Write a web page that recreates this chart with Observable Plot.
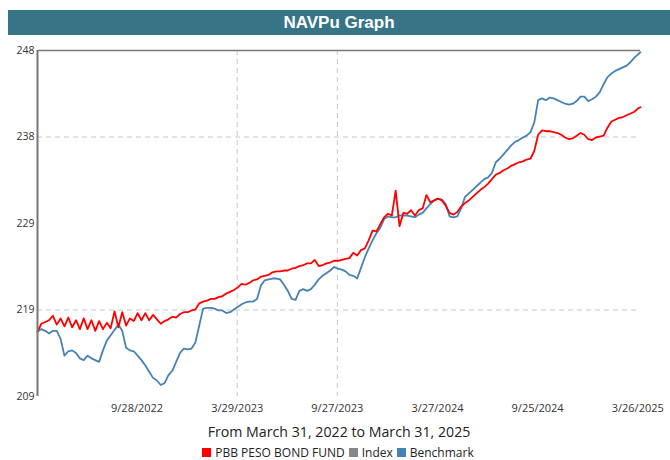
<!DOCTYPE html>
<html><head><meta charset="utf-8">
<script src="https://cdn.jsdelivr.net/npm/d3@7"></script>
<script src="https://cdn.jsdelivr.net/npm/@observablehq/plot@0.6"></script>
<style>
body{margin:0;background:#fff;width:670px;height:460px;position:relative;overflow:hidden;font-family:"Open Sans",sans-serif;}
#title{position:absolute;left:8px;top:10px;width:662px;height:25px;background:#367585;color:#fff;font:bold 17px "Liberation Sans",Arial,sans-serif;text-align:center;line-height:25px;}
#chart{position:absolute;left:0;top:40px;}
#caption{position:absolute;left:0;width:678px;top:422px;text-align:center;font-size:14.2px;color:#222;}
#legend{position:absolute;left:0;width:680px;top:444px;text-align:center;font-size:12px;color:#222;}
.sw{display:inline-block;width:9px;height:9px;margin:0 4px 0 0;vertical-align:0px;}
.item{margin-right:4px;}
</style></head>
<body>
<div id="title">NAVPu Graph</div>
<div id="chart"></div>
<div id="caption">From March 31, 2022 to March 31, 2025</div>
<div id="legend"></div>
<script>
const startDate = "2022-03-31";
const endDate = "2025-03-31";
const tickDates = ["2022-09-28","2023-03-29","2023-09-27","2024-03-27","2024-09-25","2025-03-26"];
const yTicks = [209, 218.75, 228.5, 238.25, 248];
const gridY = [218.75, 238.25];
const gridX = ["2023-03-29","2023-09-27"];
const seriesNames = ["PBB PESO BOND FUND","Index","Benchmark"];
const seriesColors = ["#ff0000","#888888","#4682b4"];

// weekly samples from 2022-03-31, last value on 2025-03-31
const fundValues = [
216.3, 217.2, 217.4, 217.6, 218.1, 217.1, 217.8, 216.9, 217.9, 216.8,
217.6, 216.6, 217.8, 216.6, 217.6, 216.4, 217.5, 216.6, 217.3, 216.7,
218.6, 216.8, 218.5, 217.0, 217.8, 217.5, 218.4, 217.6, 218.4, 217.6,
218.2, 217.7, 217.2, 217.5, 217.7, 218.0, 217.9, 218.3, 218.5, 218.5,
218.7, 218.8, 219.5, 219.7, 219.8, 220.0, 220.0, 220.2, 220.3, 220.6,
220.8, 221.0, 221.3, 221.7, 221.6, 221.8, 222.1, 222.2, 222.5, 222.6,
222.7, 223.0, 223.1, 223.1, 223.2, 223.2, 223.4, 223.5, 223.7, 223.8,
224.0, 224.0, 224.4, 223.7, 223.8, 224.0, 224.1, 224.3, 224.3, 224.4,
224.5, 224.6, 225.2, 224.9, 225.5, 225.7, 226.6, 227.7, 227.6, 228.4,
229.2, 229.6, 229.4, 232.2, 228.2, 229.7, 229.6, 230.0, 229.4, 230.0,
230.2, 231.7, 230.9, 231.1, 231.3, 231.1, 230.5, 229.7, 229.5, 229.8,
230.4, 230.8, 231.1, 231.5, 231.9, 232.3, 232.6, 233.0, 233.5, 234.0,
234.2, 234.5, 234.7, 235.0, 235.2, 235.4, 235.5, 235.7, 235.8, 236.7,
238.5, 239.0, 238.9, 238.9, 238.8, 238.7, 238.5, 238.2, 238.0, 238.1,
238.4, 238.7, 238.5, 238.0, 237.9, 238.2, 238.3, 238.4, 239.3, 240.0,
240.2, 240.4, 240.5, 240.7, 240.9, 241.1, 241.5, 241.6
];
const benchValues = [
216.3, 216.6, 216.4, 216.1, 216.4, 216.4, 215.5, 213.6, 214.1, 214.2,
213.9, 213.3, 213.1, 213.6, 213.3, 213.1, 212.9, 214.2, 215.3, 215.9,
216.5, 217.1, 216.4, 214.5, 214.2, 214.1, 213.6, 213.1, 212.5, 211.8,
211.1, 210.8, 210.3, 210.5, 211.4, 211.9, 212.9, 213.9, 214.4, 214.3,
214.4, 215.1, 217.0, 218.9, 219.0, 219.0, 218.9, 218.7, 218.7, 218.4,
218.5, 218.8, 219.1, 219.4, 219.6, 219.7, 219.7, 220.0, 221.5, 222.1,
222.2, 222.3, 222.3, 222.2, 221.6, 220.9, 220.0, 219.9, 220.9, 221.1,
220.9, 221.1, 221.6, 222.2, 222.6, 222.9, 223.2, 223.6, 223.4, 223.3,
223.1, 222.7, 222.6, 222.3, 223.5, 224.7, 225.7, 226.6, 227.4, 228.0,
229.0, 229.3, 229.2, 229.2, 229.4, 229.4, 229.4, 229.3, 229.2, 229.5,
229.7, 230.2, 230.7, 231.1, 231.3, 231.2, 230.7, 229.3, 229.2, 229.3,
230.2, 231.5, 231.9, 232.3, 232.7, 233.1, 233.5, 233.7, 234.2, 235.4,
235.8, 236.3, 236.8, 237.3, 237.7, 237.9, 238.2, 238.4, 238.8, 239.9,
242.4, 242.6, 242.4, 242.7, 242.6, 242.4, 242.2, 242.0, 241.9, 242.0,
242.3, 242.8, 242.8, 242.3, 242.5, 242.8, 243.3, 244.2, 245.0, 245.4,
245.7, 245.9, 246.1, 246.3, 246.7, 247.2, 247.6, 247.8
];

const parse = d3.utcParse("%Y-%m-%d");
const start = parse(startDate), end = parse(endDate);
const sampleDates = d3.range(fundValues.length - 1).map(i => d3.utcDay.offset(start, 7 * i)).concat([end]);
const fundRows = fundValues.map((v, i) => ({date: sampleDates[i], value: v}));
const benchRows = benchValues.map((v, i) => ({date: sampleDates[i], value: v}));

const chart = Plot.plot({
  width: 670, height: 380,
  marginLeft: 37, marginRight: 30, marginTop: 10, marginBottom: 24,
  style: {fontFamily: "Open Sans, sans-serif", fontSize: "11px", color: "#333", background: "transparent"},
  x: {type: "utc", domain: [start, end], label: null},
  y: {domain: [209, 248], label: null},
  marks: [
    Plot.ruleY(gridY, {stroke: "#c8c8c8", strokeDasharray: "5,4"}),
    Plot.ruleX(gridX.map(parse), {stroke: "#c8c8c8", strokeDasharray: "5,4"}),
    Plot.line(benchRows, {x: "date", y: "value", stroke: seriesColors[2], strokeWidth: 1.8}),
    Plot.line(fundRows, {x: "date", y: "value", stroke: seriesColors[0], strokeWidth: 1.8}),
    Plot.ruleY([248], {stroke: "#777", strokeWidth: 1.5}),
    Plot.ruleX([start], {stroke: "#777", strokeWidth: 2}),
    Plot.axisX({ticks: tickDates.map(parse), tickFormat: d3.utcFormat("%-m/%-d/%Y"), tickSize: 0, tickPadding: 8, fontSize: 11, fill: "#333", label: null}),
    Plot.axisY({ticks: yTicks, tickFormat: d => Math.round(d), tickSize: 0, tickPadding: 3, fontSize: 10.5, fill: "#333", label: null})
  ]
});
document.getElementById("chart").appendChild(chart);

const legend = document.getElementById("legend");
seriesNames.forEach((name, i) => {
  const item = document.createElement("span");
  item.className = "item";
  item.innerHTML = `<span class="sw" style="background:${seriesColors[i]}"></span>${name}`;
  legend.appendChild(item);
});
</script>
</body></html>
